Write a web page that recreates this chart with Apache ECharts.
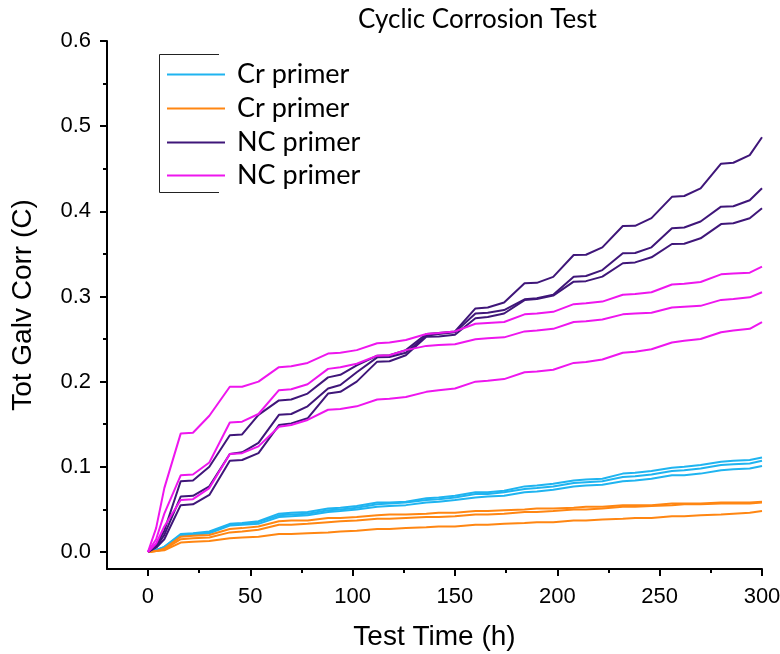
<!DOCTYPE html>
<html>
<head>
<meta charset="utf-8">
<script src="https://cdn.jsdelivr.net/npm/echarts@6/dist/echarts.min.js"></script>
<style>
  html, body { margin: 0; padding: 0; background: #fff; }
  #main { width: 780px; height: 654px; }
</style>
</head>
<body>
<div id="main"></div>
<script>
  // test time (h), shared by every curve
  var hours = [0, 4, 8, 16, 22, 30, 40, 46, 54, 64, 70, 78, 88, 94, 102, 112, 118, 126, 136, 142,
    150, 160, 166, 174, 184, 190, 198, 208, 214, 222, 232, 238, 246, 256, 262, 270, 280, 286, 294, 300];

  // Cr primer, blue curves
  var crBlue1 = [0, 0.002, 0.006, 0.021, 0.022, 0.024, 0.033, 0.034, 0.036, 0.045, 0.046, 0.047, 0.051, 0.052, 0.054, 0.058, 0.058, 0.059, 0.063, 0.064,
    0.066, 0.070, 0.070, 0.072, 0.077, 0.078, 0.080, 0.084, 0.085, 0.086, 0.092, 0.093, 0.095, 0.099, 0.100, 0.102, 0.106, 0.107, 0.108, 0.111];
  var crBlue2 = [0, 0.002, 0.006, 0.020, 0.021, 0.023, 0.032, 0.033, 0.035, 0.043, 0.044, 0.045, 0.049, 0.050, 0.052, 0.056, 0.057, 0.058, 0.061, 0.062,
    0.064, 0.068, 0.068, 0.070, 0.074, 0.075, 0.077, 0.081, 0.082, 0.083, 0.088, 0.089, 0.091, 0.095, 0.096, 0.098, 0.102, 0.103, 0.104, 0.107];
  var crBlue3 = [0, 0.002, 0.005, 0.019, 0.020, 0.022, 0.031, 0.032, 0.033, 0.041, 0.042, 0.043, 0.047, 0.048, 0.050, 0.053, 0.054, 0.055, 0.058, 0.059,
    0.061, 0.064, 0.065, 0.066, 0.070, 0.071, 0.073, 0.077, 0.078, 0.079, 0.083, 0.084, 0.086, 0.090, 0.090, 0.092, 0.096, 0.097, 0.098, 0.101];

  // Cr primer, orange curves
  var crOrange1 = [0, 0.001, 0.004, 0.018, 0.019, 0.020, 0.027, 0.028, 0.030, 0.036, 0.037, 0.037, 0.040, 0.040, 0.041, 0.043, 0.044, 0.044, 0.045, 0.046,
    0.046, 0.048, 0.048, 0.049, 0.050, 0.051, 0.051, 0.052, 0.053, 0.053, 0.055, 0.055, 0.055, 0.057, 0.057, 0.057, 0.058, 0.058, 0.058, 0.059];
  var crOrange2 = [0, 0.001, 0.003, 0.015, 0.016, 0.017, 0.023, 0.024, 0.026, 0.032, 0.032, 0.033, 0.035, 0.036, 0.037, 0.039, 0.039, 0.040, 0.041, 0.041,
    0.042, 0.044, 0.044, 0.045, 0.047, 0.047, 0.048, 0.050, 0.050, 0.051, 0.053, 0.053, 0.054, 0.055, 0.056, 0.056, 0.057, 0.057, 0.057, 0.058];
  var crOrange3 = [0, 0.001, 0.002, 0.011, 0.012, 0.013, 0.016, 0.017, 0.018, 0.021, 0.021, 0.022, 0.023, 0.024, 0.025, 0.027, 0.027, 0.028, 0.029, 0.030,
    0.030, 0.032, 0.032, 0.033, 0.034, 0.035, 0.035, 0.037, 0.037, 0.038, 0.039, 0.040, 0.040, 0.042, 0.042, 0.043, 0.044, 0.045, 0.046, 0.048];

  // NC primer, dark purple curves
  var ncDark1 = [0, 0.008, 0.025, 0.083, 0.084, 0.100, 0.137, 0.138, 0.161, 0.178, 0.179, 0.186, 0.205, 0.208, 0.219, 0.2305, 0.231, 0.237, 0.256, 0.257,
    0.259, 0.286, 0.287, 0.293, 0.3155, 0.316, 0.323, 0.3487, 0.349, 0.3577, 0.3828, 0.383, 0.392, 0.417, 0.418, 0.427, 0.456, 0.457, 0.466, 0.487];
  var ncDark2 = [0, 0.006, 0.020, 0.065, 0.066, 0.077, 0.115, 0.117, 0.128, 0.161, 0.162, 0.171, 0.192, 0.196, 0.211, 0.2285, 0.229, 0.234, 0.254, 0.256,
    0.258, 0.280, 0.281, 0.284, 0.2967, 0.298, 0.302, 0.3233, 0.324, 0.331, 0.3507, 0.351, 0.3577, 0.380, 0.381, 0.388, 0.4055, 0.406, 0.413, 0.427];
  var ncDark3 = [0, 0.005, 0.015, 0.055, 0.056, 0.067, 0.107, 0.108, 0.116, 0.149, 0.151, 0.157, 0.186, 0.188, 0.200, 0.2235, 0.224, 0.231, 0.2528, 0.253,
    0.255, 0.2744, 0.276, 0.280, 0.2958, 0.297, 0.301, 0.3174, 0.318, 0.3233, 0.339, 0.340, 0.346, 0.3616, 0.362, 0.3683, 0.385, 0.386, 0.3918, 0.4035];

  // NC primer, magenta curves
  var ncPink1 = [0, 0.028, 0.075, 0.139, 0.140, 0.160, 0.194, 0.194, 0.200, 0.217, 0.218, 0.222, 0.233, 0.234, 0.237, 0.245, 0.246, 0.249, 0.256, 0.257,
    0.259, 0.268, 0.269, 0.270, 0.279, 0.280, 0.282, 0.291, 0.292, 0.294, 0.302, 0.303, 0.305, 0.314, 0.315, 0.317, 0.326, 0.327, 0.328, 0.335];
  var ncPink2 = [0, 0.015, 0.045, 0.090, 0.091, 0.105, 0.152, 0.153, 0.162, 0.190, 0.191, 0.197, 0.215, 0.217, 0.221, 0.2305, 0.231, 0.237, 0.242, 0.243,
    0.244, 0.2497, 0.251, 0.252, 0.259, 0.260, 0.262, 0.270, 0.271, 0.273, 0.279, 0.280, 0.281, 0.287, 0.288, 0.289, 0.296, 0.297, 0.299, 0.305];
  var ncPink3 = [0, 0.010, 0.030, 0.061, 0.062, 0.075, 0.115, 0.116, 0.124, 0.147, 0.149, 0.155, 0.167, 0.168, 0.171, 0.179, 0.180, 0.182, 0.188, 0.190,
    0.192, 0.200, 0.201, 0.203, 0.211, 0.212, 0.214, 0.222, 0.223, 0.226, 0.234, 0.235, 0.238, 0.246, 0.248, 0.250, 0.258, 0.260, 0.262, 0.270];

  var xMajor = [0, 50, 100, 150, 200, 250, 300];
  var xMinor = [25, 75, 125, 175, 225, 275];
  var yMajor = [0, 0.1, 0.2, 0.3, 0.4, 0.5, 0.6];
  var yMinor = [0.05, 0.15, 0.25, 0.35, 0.45, 0.55];

  var groups = [
    { key: 'crA', label: 'Cr primer', color: '#1fb4f0', curves: [crBlue1, crBlue2, crBlue3] },
    { key: 'crB', label: 'Cr primer', color: '#ff8612', curves: [crOrange1, crOrange2, crOrange3] },
    { key: 'ncA', label: 'NC primer', color: '#3f1679', curves: [ncDark1, ncDark2, ncDark3] },
    { key: 'ncB', label: 'NC primer', color: '#ee16ee', curves: [ncPink1, ncPink2, ncPink3] }
  ];
  var legendRowY = [73, 107, 141, 174];

  var labelOf = {};
  var series = [];
  groups.forEach(function (g) {
    labelOf[g.key] = g.label;
    g.curves.forEach(function (ys) {
      series.push({
        name: g.key,
        type: 'line',
        showSymbol: false,
        color: g.color,
        lineStyle: { width: 2, color: g.color },
        data: hours.map(function (h, i) { return [h, ys[i]]; })
      });
    });
  });

  var legends = groups.map(function (g, i) {
    return {
      data: [g.key],
      left: 162,
      top: legendRowY[i] - 17,
      itemWidth: 58,
      itemHeight: 2,
      icon: 'rect',
      selectedMode: false,
      formatter: function (n) { return labelOf[n]; },
      textStyle: { fontFamily: 'Lato', fontSize: 27, color: '#000', padding: [0, 0, 0, 7] }
    };
  });

  var axisFont = { fontFamily: 'Liberation Sans', fontSize: 22, color: '#000' };
  var nameFont = { fontFamily: 'Liberation Sans', fontSize: 28, color: '#000' };

  var chart = echarts.init(document.getElementById('main'));
  chart.setOption({
    animation: false,
    backgroundColor: '#fff',
    title: {
      text: 'Cyclic Corrosion Test',
      left: 353,
      top: 2,
      textStyle: { fontFamily: 'Lato', fontSize: 26, fontWeight: 'normal', color: '#000' }
    },
    legend: legends,
    grid: { left: 107, right: 18, top: 41, bottom: 85, containLabel: false, outerBoundsMode: 'none' },
    xAxis: [{
      type: 'value',
      min: -20,
      max: 300,
      name: 'Test Time (h)',
      nameLocation: 'middle',
      nameGap: 54,
      nameTextStyle: nameFont,
      axisLine: { onZero: false, lineStyle: { color: '#000', width: 2 } },
      axisTick: { customValues: xMajor, length: 7, lineStyle: { color: '#000', width: 2 } },
      axisLabel: Object.assign({ customValues: xMajor, margin: 17 }, axisFont),
      splitLine: { show: false }
    }, {
      type: 'value',
      position: 'bottom',
      min: -20,
      max: 300,
      axisLine: { show: false, onZero: false },
      axisTick: { customValues: xMinor, length: 4, lineStyle: { color: '#000', width: 2 } },
      axisLabel: { show: false },
      splitLine: { show: false }
    }],
    yAxis: [{
      type: 'value',
      min: -0.02,
      max: 0.6,
      name: 'Tot Galv Corr (C)',
      nameLocation: 'middle',
      nameGap: 70,
      nameTextStyle: nameFont,
      axisLine: { show: true, onZero: false, lineStyle: { color: '#000', width: 2 } },
      axisTick: { show: true, customValues: yMajor, length: 7, lineStyle: { color: '#000', width: 2 } },
      axisLabel: Object.assign({
        customValues: yMajor,
        margin: 16,
        formatter: function (v) { return v.toFixed(1); }
      }, axisFont),
      splitLine: { show: false }
    }, {
      type: 'value',
      position: 'left',
      min: -0.02,
      max: 0.6,
      axisLine: { show: false, onZero: false },
      axisTick: { show: true, customValues: yMinor, length: 4, lineStyle: { color: '#000', width: 2 } },
      axisLabel: { show: false },
      splitLine: { show: false }
    }],
    graphic: [{
      type: 'polyline',
      shape: { points: [[219, 54.5], [159.5, 54.5], [159.5, 192.5], [219, 192.5]] },
      style: { stroke: '#222', lineWidth: 1, fill: null }
    }],
    series: series
  });
</script>
</body>
</html>
